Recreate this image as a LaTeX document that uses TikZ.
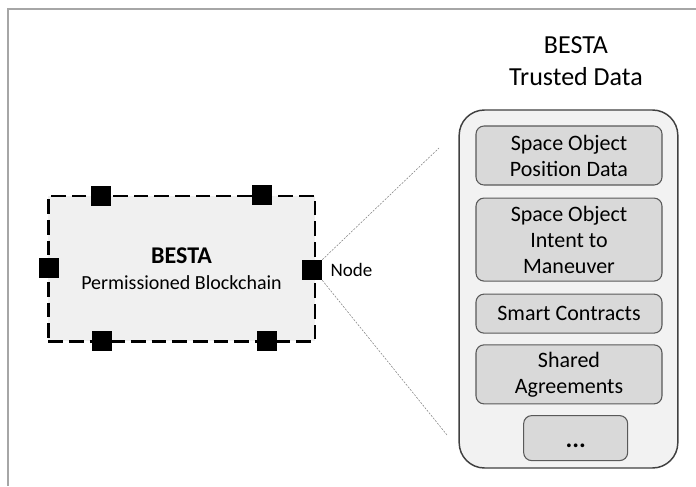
\documentclass[tikz,border=0pt]{standalone}
\usepackage{fontspec}
\setmainfont{Carlito}
\usetikzlibrary{shapes.geometric, arrows, positioning}
\definecolor{framegray}{HTML}{A6A6A6}
\definecolor{chainfill}{HTML}{F0F0F0}
\definecolor{outerfill}{HTML}{F2F2F2}
\definecolor{boxfill}{HTML}{D9D9D9}
\definecolor{boxline}{HTML}{595959}
\tikzstyle{chain} = [rectangle, minimum width=200pt, minimum height=109pt, text centered, align=center, draw=black, line width=2pt, dash pattern=on 11pt off 4.5pt, fill=chainfill, font=\fontsize{15}{19.5}\selectfont]
\tikzstyle{peer} = [rectangle, minimum size=15pt, inner sep=0pt, fill=black, draw=none]
\tikzstyle{store} = [rectangle, rounded corners=19pt, minimum width=164pt, minimum height=268.5pt, draw=black!75, line width=1.1pt, fill=outerfill]
\tikzstyle{data} = [rectangle, rounded corners=6pt, minimum width=139.5pt, text centered, align=center, draw=boxline, line width=0.8pt, fill=boxfill, font=\fontsize{16.5}{19.5}\selectfont]
\tikzstyle{zoomline} = [gray, line width=0.4pt, dash pattern=on 1.5pt off 1pt]

\begin{document}
\begin{tikzpicture}[x=0.75pt, y=-0.75pt]
	\useasboundingbox (0,0) rectangle (696,486);
	\draw [framegray, line width=1.5pt] (696,9)--(8,9)--(8,486);
	% blockchain with its nodes
	\node (chain) [chain] at (181.5,268.5) {{\fontsize{18}{19.5}\selectfont\bfseries BESTA}\\Permissioned Blockchain};
	\node (p1) [peer] at (100.5,195.5) {};
	\node (p2) [peer] at (261.5,194.5) {};
	\node (p3) [peer] at (48.5,268) {};
	\node (p4) [peer] at (312,270) {};
	\node (p5) [peer] at (101.5,341) {};
	\node (p6) [peer] at (266.5,341) {};
	\node (lbl) [right=6pt of p4, inner sep=0pt, font=\fontsize{14.25}{17}\selectfont] {Node};
	% trusted data
	\node (title) at (576,61) [align=center, font=\fontsize{19.5}{24}\selectfont] {BESTA\\Trusted Data};
	\node (store) [store] at (568.5,289) {};
	\node (d1) [data, minimum height=44.25pt] at (569,155.5) {Space Object\\Position Data};
	\node (d2) [data, minimum height=62.25pt, below=9pt of d1] {Space Object\\Intent to\\Maneuver};
	\node (d3) [data, minimum height=29.25pt, below=9pt of d2] {Smart Contracts};
	\node (d4) [data, minimum height=44.25pt, below=8pt of d3] {Shared\\Agreements};
	\node (d5) [data, minimum width=78pt, minimum height=33.75pt, text height=14pt, text depth=0pt, below=8pt of d4, xshift=5pt, font=\fontsize{19}{19.5}\selectfont\bfseries] {...};
	\coordinate (z1) at (439,148);
	\coordinate (z2) at (447,435);
	\draw [zoomline] (p4.north east)--(z1);
	\draw [zoomline] (p4.south east)--(z2);
\end{tikzpicture}
\end{document}
